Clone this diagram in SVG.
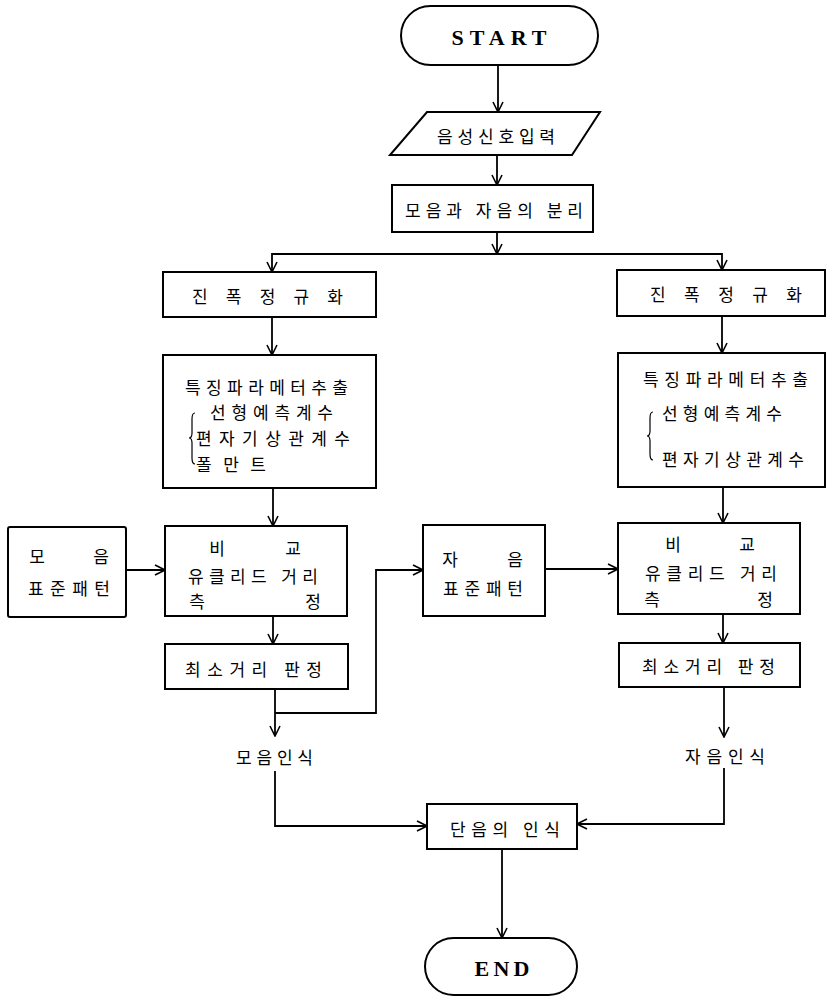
<svg xmlns="http://www.w3.org/2000/svg" width="826" height="999" viewBox="0 0 826 999">
<style>
.b{fill:#fff;stroke:#000;stroke-width:2}
.c{fill:none;stroke:#000;stroke-width:1.8}
.t{font-family:"Noto Sans CJK KR","Noto Sans",sans-serif;font-size:17px;fill:#000;dominant-baseline:central}
.m{text-anchor:middle}
.e{font-family:"Liberation Serif",serif;font-size:22px;font-weight:bold;fill:#000;dominant-baseline:central;text-anchor:middle}
</style>
<defs>
<marker id="ar" viewBox="-12 -6 13 12" refX="0" refY="0" markerWidth="13" markerHeight="12" markerUnits="userSpaceOnUse" orient="auto">
<path d="M-10,-5 L0,0 L-10,5" fill="none" stroke="#000" stroke-width="1.6"/>
</marker>
</defs>
<rect width="826" height="999" fill="#fff"/>

<g id="connectors" class="c" marker-end="url(#ar)">
<path d="M498,65 V112"/>
<path d="M497,155 V185"/>
<path d="M497,232 V254"/>
<path d="M497,254 H272 V272"/>
<path d="M497,254 H722 V270"/>
<path d="M272,317 V355"/>
<path d="M722,316 V353"/>
<path d="M273,488 V526"/>
<path d="M723,487 V523"/>
<path d="M126,570 H165"/>
<path d="M273,616 V644"/>
<path d="M275,689 V736"/>
<path d="M275,713 H376 V570 H423"/>
<path d="M545,569 H618"/>
<path d="M723,614 V643"/>
<path d="M724,687 V737"/>
<path d="M275,771 V826 H427"/>
<path d="M724,768 V824 H577"/>
<path d="M502,849 V938"/>
</g>

<g id="start">
<rect class="b" x="401" y="6" width="197" height="59" rx="29.5"/>
<text class="e" x="499" y="37" textLength="95" lengthAdjust="spacing">START</text>
</g>

<g id="input">
<polygon class="b" points="427,112 600,112 572,155 390,155"/>
<text class="t" x="437" y="135" textLength="118" lengthAdjust="spacing">음성신호입력</text>
</g>

<g id="split">
<rect class="b" x="392" y="185" width="201" height="47"/>
<text class="t" x="405" y="209" textLength="178" lengthAdjust="spacing">모음과 자음의 분리</text>
</g>

<g id="norm-left">
<rect class="b" x="163" y="272" width="213" height="45"/>
<text class="t" x="192" y="295" textLength="151" lengthAdjust="spacing">진 폭 정 규 화</text>
</g>

<g id="norm-right">
<rect class="b" x="617" y="270" width="208" height="46"/>
<text class="t" x="650" y="293" textLength="152" lengthAdjust="spacing">진 폭 정 규 화</text>
</g>

<g id="feature-left">
<rect class="b" x="163" y="355" width="213" height="133"/>
<text class="t" x="185" y="386" textLength="163" lengthAdjust="spacing">특징파라메터추출</text>
<text class="t" x="210" y="411" textLength="123" lengthAdjust="spacing">선형예측계수</text>
<text class="t" x="196" y="437" textLength="154" lengthAdjust="spacing">편자기상관계수</text>
<text class="t" x="196" y="463" textLength="70" lengthAdjust="spacing">폴만트</text>
<path d="M195,413 Q192,413 192,419 V433 Q192,438 189,438 Q192,438 192,443 V458 Q192,464 195,464" fill="none" stroke="#000" stroke-width="1.2"/>
</g>

<g id="feature-right">
<rect class="b" x="618" y="353" width="207" height="134"/>
<text class="t" x="643" y="378" textLength="165" lengthAdjust="spacing">특징파라메터추출</text>
<text class="t" x="662" y="412" textLength="120" lengthAdjust="spacing">선형예측계수</text>
<text class="t" x="662" y="458" textLength="142" lengthAdjust="spacing">편자기상관계수</text>
<path d="M653,412 Q650,412 650,418 V431 Q650,436 647,436 Q650,436 650,441 V454 Q650,460 653,460" fill="none" stroke="#000" stroke-width="1.2"/>
</g>

<g id="vowel-pattern">
<rect class="b" x="8" y="527" width="118" height="90" rx="2"/>
<text class="t m" x="37" y="555">모</text>
<text class="t m" x="101" y="555">음</text>
<text class="t" x="28" y="587" textLength="82" lengthAdjust="spacing">표준패턴</text>
</g>

<g id="compare-left">
<rect class="b" x="165" y="526" width="182" height="90"/>
<text class="t m" x="217" y="547">비</text>
<text class="t m" x="293" y="547">교</text>
<text class="t" x="188" y="575" textLength="130" lengthAdjust="spacing">유클리드 거리</text>
<text class="t m" x="197" y="600">측</text>
<text class="t m" x="313" y="600">정</text>
</g>

<g id="consonant-pattern">
<rect class="b" x="423" y="525" width="122" height="91"/>
<text class="t m" x="450" y="558">자</text>
<text class="t m" x="515" y="558">음</text>
<text class="t" x="443" y="587" textLength="80" lengthAdjust="spacing">표준패턴</text>
</g>

<g id="compare-right">
<rect class="b" x="618" y="523" width="182" height="91"/>
<text class="t m" x="673" y="543">비</text>
<text class="t m" x="747" y="543">교</text>
<text class="t" x="645" y="572" textLength="132" lengthAdjust="spacing">유클리드 거리</text>
<text class="t m" x="652" y="598">측</text>
<text class="t m" x="765" y="598">정</text>
</g>

<g id="min-left">
<rect class="b" x="165" y="644" width="183" height="45"/>
<text class="t" x="185" y="668" textLength="137" lengthAdjust="spacing">최소거리 판정</text>
</g>

<g id="min-right">
<rect class="b" x="619" y="643" width="181" height="44"/>
<text class="t" x="642" y="665" textLength="133" lengthAdjust="spacing">최소거리 판정</text>
</g>

<g id="vowel-result">
<text class="t" x="236" y="756" textLength="77" lengthAdjust="spacing">모음인식</text>
</g>

<g id="consonant-result">
<text class="t" x="685" y="755" textLength="80" lengthAdjust="spacing">자음인식</text>
</g>

<g id="word">
<rect class="b" x="427" y="804" width="150" height="45"/>
<text class="t" x="450" y="828" textLength="110" lengthAdjust="spacing">단음의 인식</text>
</g>

<g id="end">
<rect class="b" x="425" y="938" width="152" height="57" rx="28.5"/>
<text class="e" x="502" y="968" font-size="19" textLength="55" lengthAdjust="spacing">END</text>
</g>
</svg>
